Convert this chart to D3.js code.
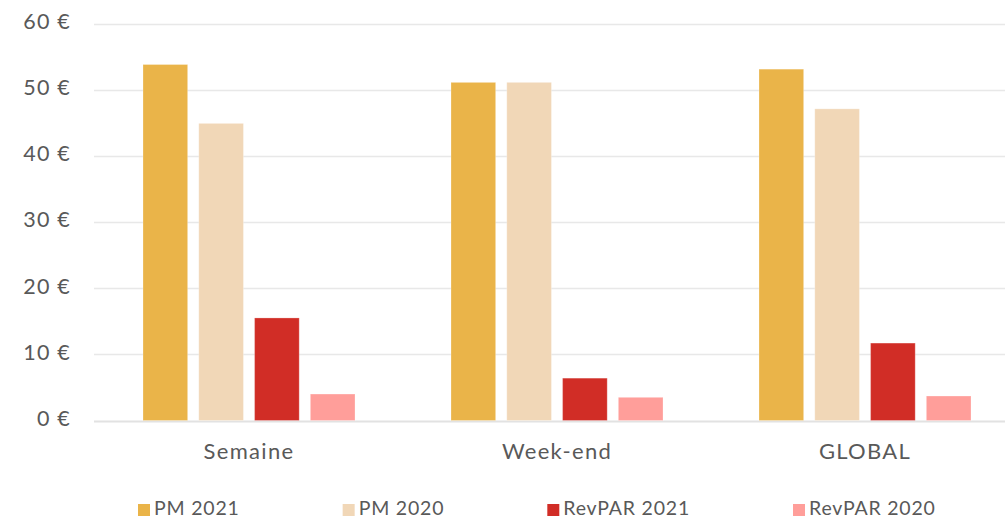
<!DOCTYPE html>
<html>
<head>
<meta charset="utf-8">
<script src="https://cdn.jsdelivr.net/npm/d3@7"></script>
<style>
  body { margin: 0; background: #fff; }
  svg text { font-family: Lato, "Open Sans", sans-serif; fill: #595959; }
</style>
</head>
<body>
<svg id="chart" width="1005" height="518"></svg>
<script>
const categories = ['Semaine', 'Week-end', 'GLOBAL']
const seriesNames = ['PM 2021', 'PM 2020', 'RevPAR 2021', 'RevPAR 2020']
const pm2021 = [53.8, 51.1, 53.1]
const pm2020 = [44.9, 51.1, 47.1]
const revpar2021 = [15.5, 6.4, 11.7]
const revpar2020 = [4.0, 3.5, 3.7]
const yTicks = [0, 10, 20, 30, 40, 50, 60]
const colors = ['#eab449', '#f1d7b7', '#d12d26', '#ff9e9a']

const values = [pm2021, pm2020, revpar2021, revpar2020]

let svg = d3.select('#chart')

let y = d3.scaleLinear().domain([0, 60]).range([420.5, 23.5])
let x0 = d3.scaleBand().domain(categories).range([95, 1019])
let x1 = d3.scaleBand().domain(seriesNames).range([48, 260]).paddingInner(0.2)

// grid
svg.append('g')
.selectAll('line')
.data(yTicks)
.enter()
.append('line')
.attr('x1', 94)
.attr('x2', 1005)
.attr('y1', d => Math.round(y(d)) + 0.5)
.attr('y2', d => Math.round(y(d)) + 0.5)
.attr('stroke', d => d === 0 ? '#e2e2e2' : '#e8e8e8')
.attr('stroke-width', d => d === 0 ? 2 : 1.3)

// y labels
svg.append('g')
.selectAll('text')
.data(yTicks)
.enter()
.append('text')
.attr('x', 71)
.attr('y', d => y(d))
.attr('text-anchor', 'end')
.attr('dominant-baseline', 'middle')
.style('font-size', '21.5px')
.style('letter-spacing', '1.2px')
.text(d => d + ' €')

// bars
let groups = svg.append('g')
.selectAll('g')
.data(categories)
.enter()
.append('g')
.attr('transform', d => `translate(${x0(d)},0)`)

groups.selectAll('rect')
.data((d, i) => seriesNames.map((s, j) => ({ s: s, v: values[j][i], c: colors[j] })))
.enter()
.append('rect')
.attr('x', d => x1(d.s))
.attr('width', x1.bandwidth())
.attr('y', d => y(d.v))
.attr('height', d => y(0) - y(d.v))
.attr('fill', d => d.c)
.attr('stroke', 'rgba(255,255,255,0.25)')
.attr('stroke-width', 1)

// category labels
svg.append('g')
.selectAll('text')
.data(categories)
.enter()
.append('text')
.attr('x', d => x0(d) + x0.bandwidth() / 2)
.attr('y', 459)
.attr('text-anchor', 'middle')
.style('font-size', '22px')
.style('letter-spacing', '1.3px')
.text(d => d)

// legend
let legend = svg.append('g')
let lx = 138
seriesNames.forEach((s, i) => {
    legend.append('rect')
    .attr('x', lx)
    .attr('y', 504)
    .attr('width', 12)
    .attr('height', 12)
    .attr('fill', colors[i])
    let t = legend.append('text')
    .attr('x', lx + 16)
    .attr('y', 515)
    .style('font-size', '19.5px')
    .style('letter-spacing', '0.8px')
    .text(s)
    lx += 16 + t.node().getComputedTextLength() + 103
})
</script>
</body>
</html>
